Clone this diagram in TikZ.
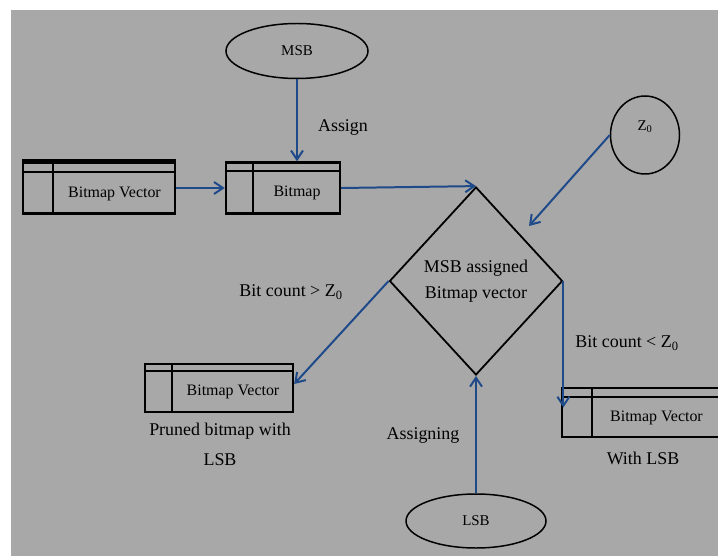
\documentclass[tikz,border=0pt]{standalone}
\usepackage{fontspec}
\setmainfont{Liberation Serif}
\usepackage{tikz}
\usetikzlibrary{arrows.meta,shapes.geometric,calc}
\tikzset{>={Straight Barb[length=9pt,width=12pt]}}
\definecolor{panelgray}{RGB}{168,168,168}
\definecolor{flowblue}{RGB}{31,74,138}
\tikzset{
  flow/.style={->, draw=flowblue, line width=2pt},
  tbox/.style={draw, line width=2.4pt, inner sep=0pt},
  boxtxt/.style={inner sep=0pt, font=\fontsize{16}{19}\selectfont},
  oval/.style={ellipse, draw, line width=1.5pt, inner sep=0pt, font=\fontsize{15}{18}\selectfont},
  lbl/.style={inner sep=0pt, font=\fontsize{18}{22}\selectfont},
}

\begin{document}
\begin{tikzpicture}[x=1bp, y=-1bp]

  % name, centre, width, height, header, divider, text
  \newcommand\bitbox[7]{%
    \node[tbox, minimum width=#3, minimum height=#4] (#1) at (#2) {};
    \draw[line width=2pt] ([yshift=-#5]#1.north west) -- ([yshift=-#5]#1.north east);
    \draw[line width=2pt] ([xshift=#6]#1.north west) -- ([xshift=#6]#1.south west);
    \node[boxtxt] (#1t) at ($([xshift=#6,yshift=-#5]#1.north west)!0.5!(#1.south east)$) {#7};
  }

  \useasboundingbox (0,0) rectangle (718,556);
  \fill[panelgray] (11,10) rectangle (718,556);

  %% inputs
  \node[oval, minimum width=142bp, minimum height=55bp] (MSB) at (297,51) {MSB};
  \node[oval, minimum width=69bp, minimum height=78bp,
        text height=11bp, text depth=20bp] (Z0) at (645,135) {Z\textsubscript{0}};
  \node[oval, minimum width=140bp, minimum height=54bp] (LSB) at (476,521) {LSB};

  %% tables
  \bitbox{bv1}{99,188}{152bp}{51bp}{11bp}{31bp}{Bitmap Vector}
  \draw[line width=4pt] (bv1.north west) -- (bv1.north east);
  \bitbox{bm}{283,188}{114bp}{51bp}{10bp}{28bp}{Bitmap}
  \bitbox{bv2}{219,388}{148bp}{48bp}{8bp}{28bp}{Bitmap Vector}
  \bitbox{bv3}{641,412.5}{158bp}{49bp}{10bp}{31bp}{Bitmap Vector}

  %% decision
  \node[diamond, draw, line width=1.8pt, inner sep=0pt, aspect=0.92,
        minimum width=173bp, minimum height=188bp, align=center,
        font=\fontsize{18}{26}\selectfont] (dia) at (476,281)
        {MSB assigned\\Bitmap vector};

  %% labels
  \node[lbl] (assignlbl) at (343,128) {Assign};
  \node[lbl] (gtlbl) at (291,292) {Bit count > Z\textsubscript{0}};
  \node[lbl] (ltlbl) at (627,343) {Bit count < Z\textsubscript{0}};
  \node[lbl] (asgnlbl) at (423,435) {Assigning};
  \node[lbl, align=center, font=\fontsize{18}{30}\selectfont] (prunedlbl) at (220,444)
        {Pruned bitmap with\\LSB};
  \node[lbl] (withlbl) at (643,458) {With LSB};

  %% connectors
  \draw[flow] (MSB.south) -- (MSB.south |- bm.north);
  \draw[flow] (bv1.east) -- (bm.west);
  \draw[flow] (bm.east) -- (dia.north);
  \coordinate (zhit) at (529,226);
  \draw[flow] (Z0.west) -- (zhit);
  \draw[flow] (dia.west) -- ([yshift=4bp]bv2.east);
  \draw[flow] (dia.east) -- ([yshift=5bp]dia.east |- bv3.west);
  \draw[flow] (LSB.north) -- (dia.south);

\end{tikzpicture}
\end{document}
